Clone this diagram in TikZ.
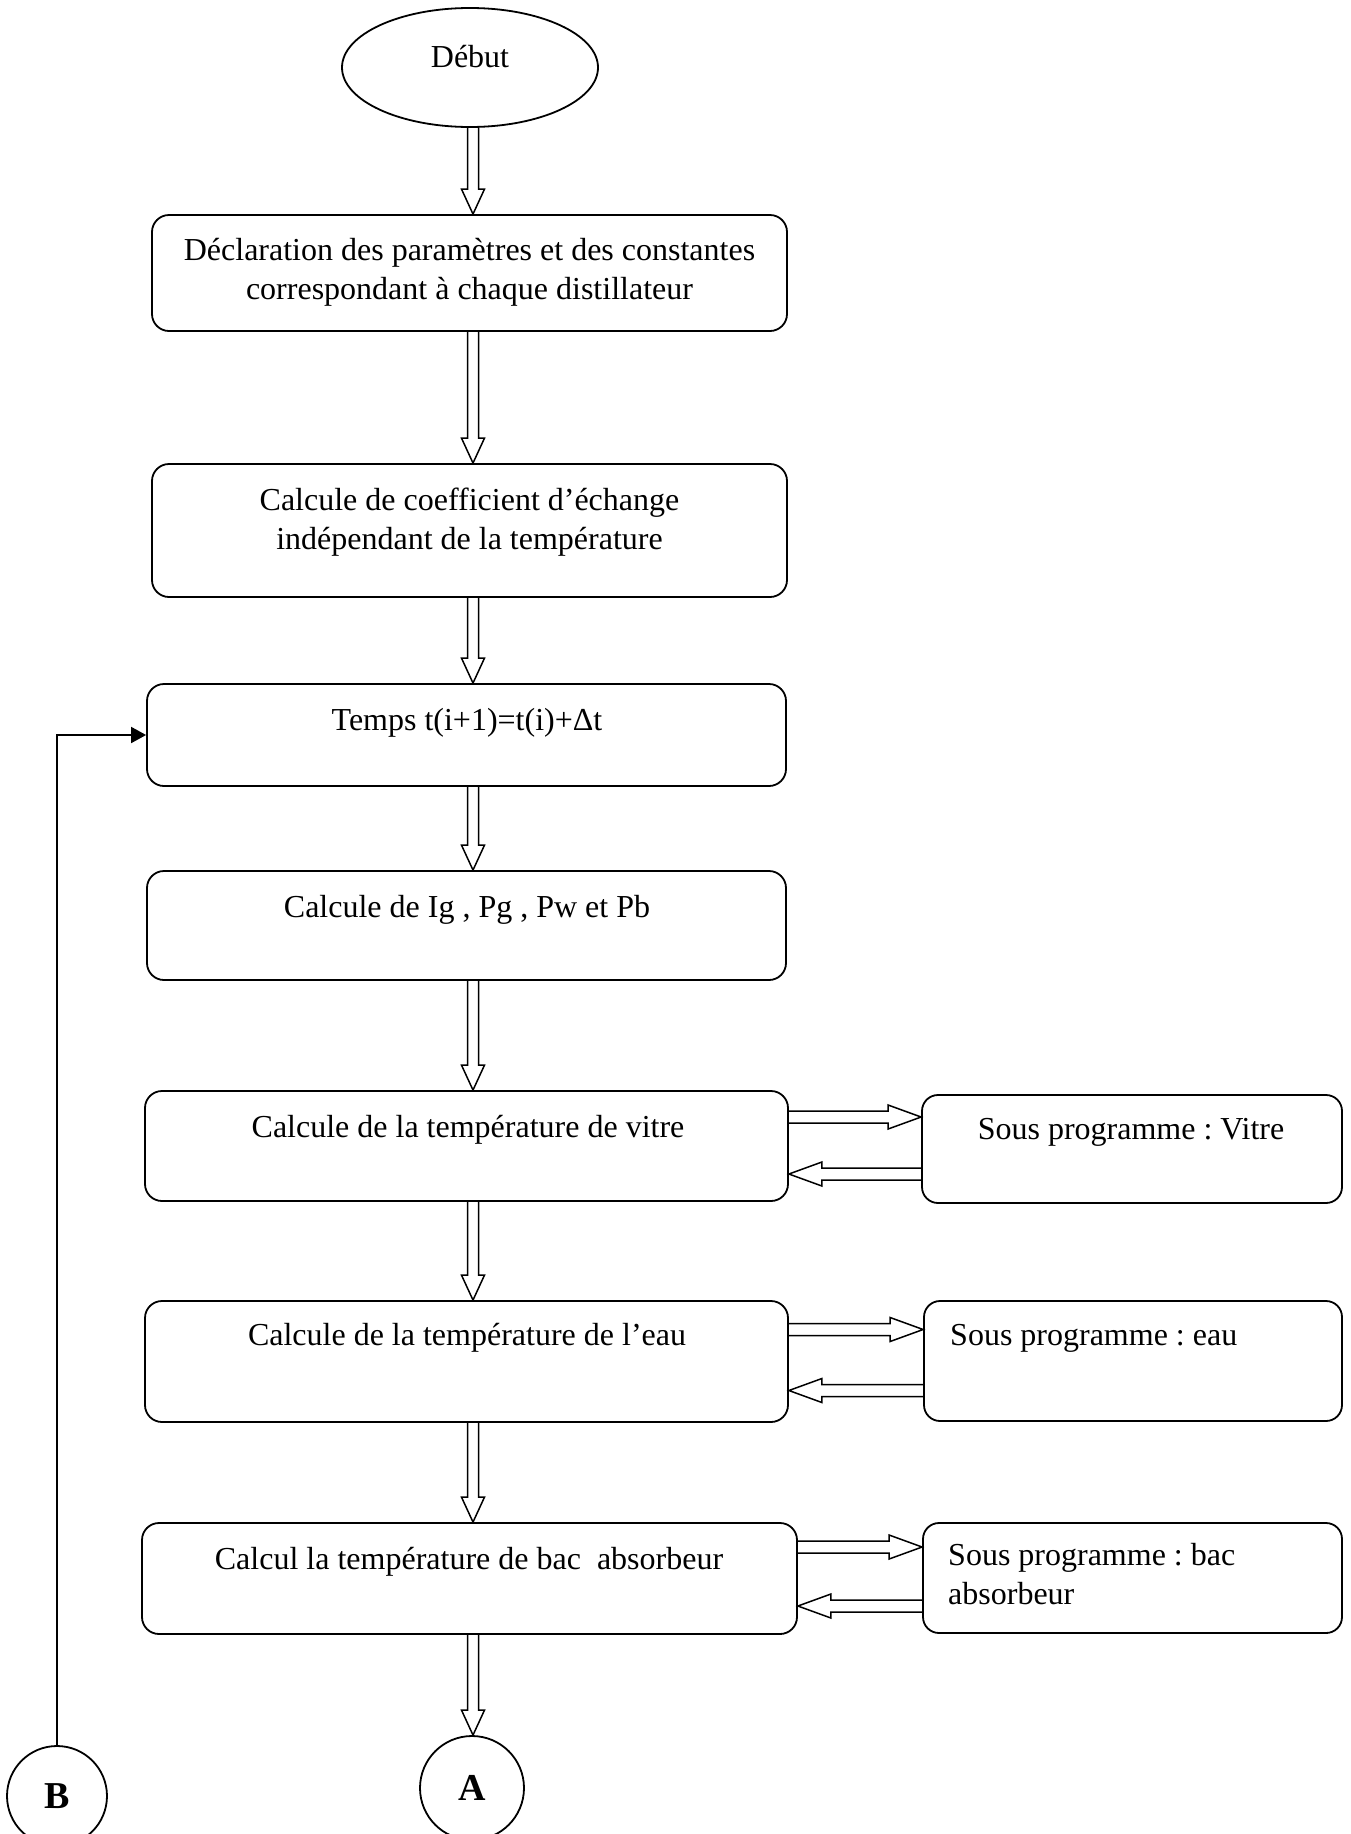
\documentclass[tikz,border=0pt]{standalone}
\usepackage{fontspec}
\setmainfont{Liberation Serif}
\usetikzlibrary{shapes.geometric,arrows.meta,calc}
\frenchspacing

% hollow block arrow pointing down, on the vertical axis
\newcommand{\vblock}[2]{%
  \path[blockline] let \p1=(#1 -| axis), \p2=(#2 -| axis) in
    (\x1-5.5pt,\y1) -- (\x1-5.5pt,\y2+25pt) -- (\x1-11.5pt,\y2+25pt) -- (\x1,\y2)
    -- (\x1+11.5pt,\y2+25pt) -- (\x1+5.5pt,\y2+25pt) -- (\x1+5.5pt,\y1);}
% hollow block arrow from a step box to its sub-program box
\newcommand{\hright}[3]{%
  \path[blockline] let \p1=(#1), \p2=(#2), \p3=($(#2)+(0pt,#3pt)$) in
    (\x1,\y3+6pt) -- (\x2-33pt,\y3+6pt) -- (\x2-33pt,\y3+12pt) -- (\x2,\y3)
    -- (\x2-33pt,\y3-12pt) -- (\x2-33pt,\y3-6pt) -- (\x1,\y3-6pt);}
% hollow block arrow back from the sub-program box
\newcommand{\hleft}[3]{%
  \path[blockline] let \p1=(#1), \p2=(#2), \p3=($(#2)+(0pt,#3pt)$) in
    (\x2,\y3+6pt) -- (\x1+33pt,\y3+6pt) -- (\x1+33pt,\y3+12pt) -- (\x1,\y3)
    -- (\x1+33pt,\y3-12pt) -- (\x1+33pt,\y3-6pt) -- (\x2,\y3-6pt);}

\begin{document}
\begin{tikzpicture}[x=1pt,y=-1pt,
  every node/.style={font=\fontsize{32}{39}\selectfont},
  lw/.style={line width=1.8pt},
  stepbox/.style={draw, lw, rounded corners=17pt, inner sep=0pt},
  subbox/.style={draw, lw, rounded corners=16pt, inner sep=0pt},
  txt/.style={inner sep=0pt, anchor=base},
  blockline/.style={draw, line width=1.5pt, line join=miter},
  conn/.style={draw, lw, circle, inner sep=0pt, font=\fontsize{38}{40}\selectfont\bfseries},
]
\useasboundingbox (0,0) rectangle (1350,1834);

\coordinate (axis) at (473,0);

% start
\node[draw, lw, ellipse, minimum width=256pt, minimum height=119pt, inner sep=0pt] (start) at (470,67.5) {};
\node[txt] (tstart) at (470,67) {Début};

% main steps (multi-line texts are placed by the baseline of their last line)
\node[stepbox, minimum width=635pt, minimum height=116pt] (b1) at (469.5,273) {};
\node[txt, align=center] (t1) at (469.5,299) {Déclaration des paramètres et des constantes\\correspondant à chaque distillateur};

\node[stepbox, minimum width=635pt, minimum height=133pt] (b2) at (469.5,530.5) {};
\node[txt, align=center] (t2) at (469.5,549) {Calcule de coefficient d’échange\\indépendant de la température};

\node[stepbox, minimum width=639pt, minimum height=102pt] (b3) at (466.5,735) {};
\node[txt] (t3) at (467,730.5) {Temps t(i+1)=t(i)+Δt};

\node[stepbox, minimum width=639pt, minimum height=109pt] (b4) at (466.5,925.5) {};
\node[txt] (t4) at (467,917.5) {Calcule de Ig , Pg , Pw et Pb};

\node[stepbox, minimum width=643pt, minimum height=110pt] (b5) at (466.5,1146) {};
\node[txt] (t5) at (468,1137.5) {Calcule de la température de vitre};
\node[subbox, minimum width=420pt, minimum height=108pt] (s5) at (1132,1149) {};
\node[txt] (u5) at (1131,1139.5) {Sous programme : Vitre};

\node[stepbox, minimum width=643pt, minimum height=121pt] (b6) at (466.5,1361.5) {};
\node[txt] (t6) at (467,1345.5) {Calcule de la température de l’eau};
\node[subbox, minimum width=418pt, minimum height=120pt] (s6) at (1133,1361) {};
\node[txt, anchor=base west] (u6) at (950,1345.5) {Sous programme : eau};

\node[stepbox, minimum width=655pt, minimum height=111pt] (b7) at (469.5,1578.5) {};
\node[txt] (t7) at (469,1569.5) {Calcul la température de bac~ absorbeur};
\node[subbox, minimum width=419pt, minimum height=110pt] (s7) at (1132.5,1578) {};
\node[txt, anchor=base west, align=left] (u7) at (948,1604) {Sous programme : bac\\absorbeur};

% off-page connectors
\node[conn, minimum size=104pt] (A) at (472,1788) {A};
\node[conn, minimum size=100pt] (B) at (57,1796) {B};

\vblock{start.south}{b1.north}
\vblock{b1.south}{b2.north}
\vblock{b2.south}{b3.north}
\vblock{b3.south}{b4.north}
\vblock{b4.south}{b5.north}
\vblock{b5.south}{b6.north}
\vblock{b6.south}{b7.north}
\vblock{b7.south}{A.north}

\hright{b5.east}{s5.west}{32}
\hleft{b5.east}{s5.west}{-25}
\hright{b6.east}{s6.west}{31.5}
\hleft{b6.east}{s6.west}{-29.5}
\hright{b7.east}{s7.west}{31}
\hleft{b7.east}{s7.west}{-28}

% loop back to the time step
\draw[lw, -{Triangle[length=15pt,width=16pt]}] (B.north) |- (b3.west);
\end{tikzpicture}
\end{document}
